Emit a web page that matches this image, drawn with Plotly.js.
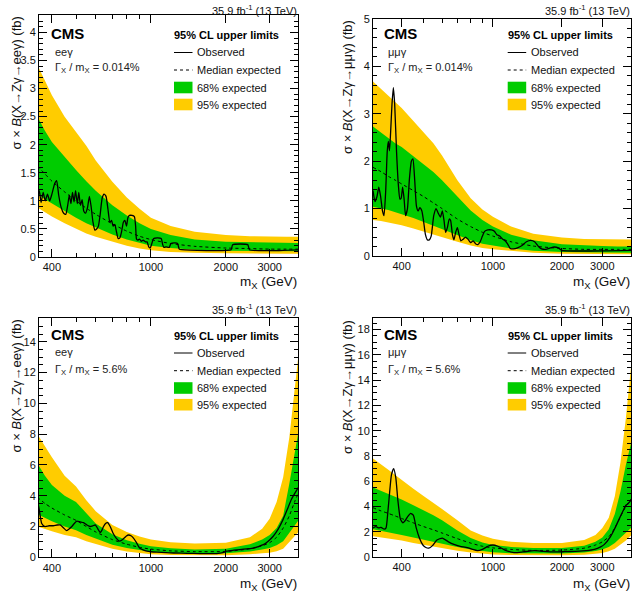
<!DOCTYPE html>
<html>
<head>
<meta charset="utf-8">
<script src="https://cdn.plot.ly/plotly-3.0.1.min.js"></script>
<style>
  html, body { margin: 0; padding: 0; background: #ffffff; }
  #chart { width: 642px; height: 606px; }
</style>
</head>
<body>
<div id="chart"></div>
<script>
// ---------- Expected-limit bands and observed limits (fb) ----------

// ee gamma, width/mass = 0.014 %
const massEEnarrow = [350, 375, 400, 450, 500, 550, 600, 700, 800, 900, 1000, 1200, 1500, 2000, 2500, 3000, 3500, 4000];
const eeNarrowUp95 = [3.42, 3.15, 2.88, 2.50, 2.22, 1.98, 1.72, 1.34, 1.06, 0.86, 0.70, 0.55, 0.45, 0.39, 0.37, 0.36, 0.36, 0.36];
const eeNarrowUp68 = [2.50, 2.25, 2.05, 1.78, 1.55, 1.35, 1.18, 0.92, 0.74, 0.60, 0.50, 0.39, 0.31, 0.27, 0.26, 0.25, 0.25, 0.25];
const eeNarrowMed  = [1.62, 1.48, 1.35, 1.16, 1.00, 0.87, 0.76, 0.59, 0.46, 0.37, 0.31, 0.24, 0.19, 0.16, 0.15, 0.14, 0.14, 0.14];
const eeNarrowLo68 = [1.12, 1.03, 0.95, 0.82, 0.70, 0.60, 0.52, 0.40, 0.31, 0.25, 0.20, 0.16, 0.13, 0.11, 0.10, 0.10, 0.10, 0.10];
const eeNarrowLo95 = [0.88, 0.80, 0.72, 0.60, 0.50, 0.42, 0.36, 0.27, 0.20, 0.15, 0.12, 0.09, 0.075, 0.065, 0.06, 0.06, 0.06, 0.06];
const obsMassEEnarrow = [350, 356, 362, 369, 376, 384, 392, 400, 410, 418, 426, 436, 446, 455, 463, 470, 477, 484, 491, 498,
  506, 513, 521, 529, 537, 546, 556, 566, 575, 585, 595, 605, 615, 625, 637, 648, 660, 672, 684, 695,
  705, 716, 727, 738, 750, 762, 775, 786, 798, 808, 820, 840, 858, 868, 875, 885, 900, 915, 930, 950,
  965, 980, 993, 1005, 1026, 1060, 1100, 1115, 1128, 1150, 1185, 1203, 1250, 1280, 1300, 1330, 2100, 2130, 2450, 2490, 4000];
const obsEEnarrow = [1.05, 1.18, 0.97, 1.15, 1.00, 1.12, 1.00, 1.12, 1.30, 1.36, 1.10, 0.88, 0.78, 0.76, 0.92, 1.10, 0.95, 1.15, 0.98, 1.18,
  0.95, 1.15, 0.92, 1.02, 0.82, 0.78, 0.88, 1.08, 0.90, 0.62, 0.48, 0.50, 0.55, 0.75, 1.05, 1.12, 1.08, 0.85, 0.62, 0.65,
  0.55, 0.58, 0.45, 0.33, 0.34, 0.45, 0.62, 0.65, 0.55, 0.70, 0.74, 0.74, 0.72, 0.55, 0.32, 0.30, 0.32, 0.28, 0.30, 0.27,
  0.27, 0.18, 0.16, 0.22, 0.33, 0.34, 0.33, 0.22, 0.17, 0.18, 0.17, 0.24, 0.25, 0.24, 0.14, 0.13, 0.13, 0.22, 0.22, 0.13, 0.13];

// mu mu gamma, width/mass = 0.014 %
const massMMnarrow = [300, 325, 350, 375, 400, 450, 500, 550, 600, 700, 800, 900, 1000, 1200, 1500, 2000, 2500, 3000, 3500, 4000];
const mmNarrowUp95 = [3.68, 3.52, 3.38, 3.25, 3.12, 2.85, 2.60, 2.38, 2.12, 1.60, 1.22, 0.98, 0.83, 0.62, 0.47, 0.39, 0.36, 0.35, 0.35, 0.35];
const mmNarrowUp68 = [2.73, 2.60, 2.48, 2.38, 2.30, 2.10, 1.93, 1.77, 1.60, 1.25, 0.96, 0.76, 0.62, 0.45, 0.33, 0.25, 0.22, 0.21, 0.20, 0.20];
const mmNarrowMed  = [1.87, 1.78, 1.68, 1.60, 1.52, 1.38, 1.25, 1.12, 1.00, 0.78, 0.62, 0.50, 0.42, 0.30, 0.21, 0.16, 0.14, 0.14, 0.14, 0.14];
const mmNarrowLo68 = [1.04, 1.00, 0.97, 0.93, 0.88, 0.80, 0.72, 0.63, 0.56, 0.44, 0.33, 0.26, 0.22, 0.16, 0.11, 0.085, 0.075, 0.07, 0.07, 0.07];
const mmNarrowLo95 = [0.76, 0.74, 0.71, 0.68, 0.65, 0.58, 0.52, 0.46, 0.40, 0.30, 0.22, 0.17, 0.14, 0.10, 0.07, 0.05, 0.04, 0.035, 0.035, 0.035];
const obsMassMMnarrow = [300, 306, 312, 318, 324, 330, 335, 341, 346, 350, 354, 358, 363, 368, 373, 380, 387, 393, 398, 404,
  410, 416, 424, 432, 441, 448, 456, 464, 472, 480, 490, 498, 508, 518, 528, 538, 552, 565, 578, 590,
  602, 612, 622, 633, 645, 654, 666, 676, 688, 700, 712, 725, 740, 760, 780, 800, 820, 840, 860, 880,
  900, 920, 950, 985, 1015, 1040, 1070, 1100, 1130, 1160, 1190, 1230, 1280, 1340, 1400, 1460, 1520, 1580, 1630, 1700,
  1780, 1850, 1930, 1990, 4000];
const obsMMnarrow = [1.38, 1.15, 1.25, 1.45, 1.25, 0.95, 0.85, 1.40, 2.20, 2.42, 2.22, 2.60, 3.20, 3.55, 3.20, 2.20, 1.50, 1.20, 1.22, 1.45,
  1.20, 0.85, 1.00, 1.60, 2.00, 2.05, 1.60, 1.05, 0.95, 1.02, 0.95, 0.75, 0.45, 0.34, 0.34, 0.42, 0.85, 1.00, 0.90, 0.82,
  0.95, 0.75, 0.50, 0.60, 0.78, 0.75, 0.45, 0.34, 0.50, 0.60, 0.45, 0.32, 0.35, 0.40, 0.35, 0.28, 0.32, 0.26, 0.24, 0.30,
  0.42, 0.52, 0.55, 0.55, 0.52, 0.45, 0.42, 0.36, 0.32, 0.25, 0.16, 0.15, 0.17, 0.22, 0.30, 0.33, 0.30, 0.20, 0.15, 0.14,
  0.17, 0.19, 0.17, 0.12, 0.12];

// ee gamma, width/mass = 5.6 %
const massEEwide = [350, 375, 400, 450, 500, 550, 600, 700, 800, 900, 1000, 1200, 1500, 2000, 2500, 2800, 3000, 3200, 3400, 3600, 3800, 4000];
const eeWideUp95 = [8.0, 7.2, 6.5, 5.3, 4.6, 3.7, 3.0, 2.1, 1.65, 1.35, 1.15, 0.98, 0.90, 0.95, 1.30, 1.85, 2.50, 3.60, 5.20, 7.80, 11.2, 14.5];
const eeWideUp68 = [6.1, 5.3, 4.7, 4.0, 3.6, 2.9, 2.2, 1.5, 1.10, 0.88, 0.72, 0.58, 0.50, 0.55, 0.85, 1.15, 1.45, 1.90, 2.70, 4.80, 7.00, 9.0];
const eeWideMed  = [3.9, 3.5, 3.2, 2.75, 2.4, 2.0, 1.65, 1.15, 0.85, 0.65, 0.53, 0.42, 0.37, 0.38, 0.55, 0.75, 0.95, 1.30, 1.90, 2.70, 3.70, 4.5];
const eeWideLo68 = [2.8, 2.55, 2.35, 2.0, 1.75, 1.45, 1.2, 0.82, 0.60, 0.45, 0.36, 0.28, 0.25, 0.26, 0.38, 0.50, 0.60, 0.78, 1.05, 1.55, 2.10, 2.6];
const eeWideLo95 = [2.0, 1.85, 1.7, 1.45, 1.3, 1.05, 0.85, 0.55, 0.38, 0.27, 0.20, 0.15, 0.13, 0.14, 0.20, 0.26, 0.30, 0.40, 0.55, 0.95, 1.40, 1.8];
const obsMassEEwide = [350, 355, 364, 375, 390, 405, 420, 432, 446, 459, 470, 481, 492, 504, 520, 536, 553, 570, 585, 597,
  612, 625, 635, 645, 657, 670, 686, 703, 725, 748, 765, 781, 797, 813, 832, 851, 875, 900, 930, 964,
  1000, 1057, 1150, 1233, 1400, 1574, 1700, 1837, 1950, 2015, 2150, 2279, 2430, 2582, 2700, 2830, 2960, 3101, 3250, 3395,
  3530, 3667, 3800, 3900, 4000];
const obsEEwide = [3.6, 3.2, 2.2, 2.0, 2.05, 2.05, 2.1, 2.1, 1.9, 1.73, 1.85, 2.0, 2.2, 2.35, 2.3, 2.25, 2.1, 2.0, 2.05, 2.1,
  1.85, 1.6, 1.75, 2.0, 2.2, 2.25, 2.0, 1.6, 1.25, 1.05, 1.12, 1.25, 1.38, 1.45, 1.4, 1.25, 0.95, 0.6, 0.48, 0.4,
  0.36, 0.33, 0.3, 0.28, 0.26, 0.24, 0.24, 0.24, 0.3, 0.4, 0.46, 0.5, 0.55, 0.6, 0.7, 0.82, 1.05, 1.37, 1.85, 2.45,
  3.1, 3.75, 4.2, 4.5, 4.8];

// mu mu gamma, width/mass = 5.6 %
const massMMwide = [300, 325, 350, 375, 400, 450, 500, 550, 600, 700, 800, 900, 1000, 1200, 1500, 2000, 2500, 2800, 3000, 3200, 3400, 3600, 3800, 4000];
const mmWideUp95 = [7.8, 7.3, 6.9, 6.5, 6.1, 5.4, 4.8, 4.3, 3.8, 2.9, 2.1, 1.7, 1.45, 1.2, 1.1, 1.1, 1.35, 1.75, 2.3, 3.1, 4.8, 7.5, 11.0, 15.0];
const mmWideUp68 = [5.5, 5.25, 5.0, 4.75, 4.55, 4.1, 3.7, 3.3, 2.9, 2.1, 1.5, 1.15, 0.95, 0.8, 0.72, 0.72, 0.9, 1.2, 1.55, 2.2, 3.4, 5.2, 7.3, 9.0];
const mmWideMed  = [3.9, 3.65, 3.45, 3.25, 3.05, 2.7, 2.4, 2.15, 1.9, 1.45, 1.1, 0.85, 0.72, 0.6, 0.52, 0.55, 0.7, 0.95, 1.2, 1.6, 2.3, 3.2, 4.0, 4.6];
const mmWideLo68 = [2.2, 2.07, 1.95, 1.85, 1.75, 1.55, 1.37, 1.22, 1.08, 0.8, 0.6, 0.46, 0.38, 0.3, 0.26, 0.27, 0.35, 0.48, 0.6, 0.8, 1.1, 1.5, 1.9, 2.3];
const mmWideLo95 = [1.65, 1.55, 1.45, 1.37, 1.3, 1.1, 0.92, 0.8, 0.7, 0.5, 0.36, 0.26, 0.2, 0.15, 0.13, 0.14, 0.18, 0.25, 0.32, 0.45, 0.65, 0.95, 1.3, 1.7];
const obsMassMMwide = [300, 309, 318, 325, 336, 342, 348, 354, 361, 369, 377, 385, 395, 405, 413, 425, 438, 450, 463, 478,
  495, 510, 525, 545, 570, 602, 640, 676, 720, 773, 815, 855, 900, 950, 1000, 1050, 1128, 1237, 1350, 1515,
  1650, 1847, 2050, 2268, 2550, 2770, 2950, 3063, 3250, 3387, 3550, 3682, 3800, 3872, 4000];
const obsMMwide = [2.3, 2.4, 2.3, 2.35, 2.2, 2.3, 3.5, 5.0, 6.5, 7.0, 6.3, 4.5, 3.0, 2.7, 2.85, 3.2, 3.45, 3.3, 2.3, 1.5,
  0.95, 0.75, 0.7, 0.9, 1.35, 1.5, 1.2, 1.0, 0.85, 0.75, 0.6, 0.5, 0.6, 0.85, 0.95, 0.85, 0.55, 0.35, 0.4, 0.5,
  0.45, 0.4, 0.42, 0.45, 0.5, 0.6, 0.8, 1.0, 1.6, 2.2, 3.0, 3.6, 4.1, 4.2, 4.5];

// Axis labels
const xTickVals = [400, 1000, 2000, 3000];
const xTickText = ['400', '1000', '2000', '3000'];
const xMinorVals = [300, 400, 500, 600, 700, 800, 900, 2000, 3000, 4000];

// Text
const lumiText = '35.9 fb<sup>-1</sup> (13 TeV)';
const legendTitle = '<b>95% CL upper limits</b>';
const legendLabels = ['Observed', 'Median expected', '68% expected', '95% expected'];
const xTitle = 'm<sub>X</sub> (GeV)';

// ---------- Drawing ----------
const W = 642, H = 606;
const FONT = 'Liberation Sans, Arial, Helvetica, sans-serif';
const YELLOW = '#ffcc00', GREEN = '#00cc00';
const fx = p => p / W;
const fy = p => 1 - p / H;

const panels = [
  { id: '', mass: massEEnarrow, up95: eeNarrowUp95, up68: eeNarrowUp68, med: eeNarrowMed, lo68: eeNarrowLo68, lo95: eeNarrowLo95,
    obsM: obsMassEEnarrow, obs: obsEEnarrow, chan: 'eeγ', width: '0.014%', decay: 'ee',
    box: { l: 39, r: 298, t: 15, b: 257 }, xr: [355, 3900], yr: [0, 4.31], dt: 0.5, mdt: 0.1,
    cms: { x: 51, y: 33 }, textX: 55, chanY: 52, gamY: 68.5, legX: 174, legTxt: 197.3,
    legY: [35, 52.5, 70, 87.5, 104.5], lumiY: 9.5, mxY: 282, ytX: 16, ytTop: 15 },
  { id: '2', mass: massMMnarrow, up95: mmNarrowUp95, up68: mmNarrowUp68, med: mmNarrowMed, lo68: mmNarrowLo68, lo95: mmNarrowLo95,
    obsM: obsMassMMnarrow, obs: obsMMnarrow, chan: 'μμγ', width: '0.014%', decay: 'μμ',
    box: { l: 373, r: 631, t: 19, b: 256 }, xr: [300, 4000], yr: [0, 5], dt: 1, mdt: 0.2,
    cms: { x: 383.7, y: 33 }, textX: 387.5, chanY: 52, gamY: 68.5, legX: 507.7, legTxt: 531,
    legY: [35, 52.5, 70, 87.5, 104.5], lumiY: 9.5, mxY: 282.5, ytX: 347, ytTop: 18 },
  { id: '3', mass: massEEwide, up95: eeWideUp95, up68: eeWideUp68, med: eeWideMed, lo68: eeWideLo68, lo95: eeWideLo95,
    obsM: obsMassEEwide, obs: obsEEwide, chan: 'eeγ', width: '5.6%', decay: 'ee',
    box: { l: 39, r: 298, t: 318, b: 557.3 }, xr: [355, 3900], yr: [0, 15.55], dt: 2, mdt: 0.5,
    cms: { x: 51, y: 334.7 }, textX: 55, chanY: 352.3, gamY: 369.7, legX: 174, legTxt: 197.3,
    legY: [335.7, 353, 370.7, 388, 404.7], lumiY: 309, mxY: 584.7, ytX: 16, ytTop: 318 },
  { id: '4', mass: massMMwide, up95: mmWideUp95, up68: mmWideUp68, med: mmWideMed, lo68: mmWideLo68, lo95: mmWideLo95,
    obsM: obsMassMMwide, obs: obsMMwide, chan: 'μμγ', width: '5.6%', decay: 'μμ',
    box: { l: 373, r: 631, t: 318, b: 557 }, xr: [300, 4000], yr: [0, 18.92], dt: 2, mdt: 0.5,
    cms: { x: 383.7, y: 334.7 }, textX: 387.5, chanY: 352.3, gamY: 369.7, legX: 507.7, legTxt: 531,
    legY: [335.7, 353, 370.7, 388, 404.7], lumiY: 309, mxY: 584.7, ytX: 347, ytTop: 318 }
];

const band = (x, lo, hi) => ({
  x: x.concat(x.slice().reverse()),
  y: hi.concat(lo.slice().reverse())
});

const traces = [];
const layout = {
  width: W, height: H,
  margin: { l: 0, r: 0, t: 0, b: 0 },
  paper_bgcolor: '#ffffff', plot_bgcolor: '#ffffff',
  showlegend: false,
  font: { family: FONT, size: 11, color: '#000' },
  annotations: [], shapes: []
};

panels.forEach(p => {
  const xa = 'x' + p.id, ya = 'y' + p.id;
  const b95 = band(p.mass, p.lo95, p.up95);
  const b68 = band(p.mass, p.lo68, p.up68);
  traces.push({ type: 'scatter', mode: 'lines', x: b95.x, y: b95.y, xaxis: xa, yaxis: ya,
    fill: 'toself', fillcolor: YELLOW, line: { width: 0, color: YELLOW }, hoverinfo: 'skip' });
  traces.push({ type: 'scatter', mode: 'lines', x: b68.x, y: b68.y, xaxis: xa, yaxis: ya,
    fill: 'toself', fillcolor: GREEN, line: { width: 0, color: GREEN }, hoverinfo: 'skip' });
  traces.push({ type: 'scatter', mode: 'lines', x: p.mass, y: p.med, xaxis: xa, yaxis: ya,
    line: { color: '#000', width: 1, dash: 'dot', shape: 'spline', smoothing: 0.6 } });
  traces.push({ type: 'scatter', mode: 'lines', x: p.obsM, y: p.obs, xaxis: xa, yaxis: ya,
    line: { color: '#000', width: 1.3, shape: 'spline', smoothing: 0.5 } });

  const common = {
    showline: true, linecolor: '#000', linewidth: 1, mirror: 'ticks',
    ticks: 'inside', tickcolor: '#000', tickwidth: 1, ticklen: 8,
    showgrid: false, zeroline: false,
    tickfont: { family: FONT, size: 11, color: '#111' }
  };
  layout['xaxis' + p.id] = Object.assign({}, common, {
    domain: [fx(p.box.l), fx(p.box.r)], anchor: ya, type: 'log',
    range: [Math.log10(p.xr[0]), Math.log10(p.xr[1])],
    tickmode: 'array', tickvals: xTickVals, ticktext: xTickText,
    minor: { tickmode: 'array', tickvals: xMinorVals, ticks: 'inside', ticklen: 4, tickcolor: '#000', showgrid: false }
  });
  layout['yaxis' + p.id] = Object.assign({}, common, {
    domain: [fy(p.box.b), fy(p.box.t)], anchor: xa,
    range: p.yr, tickmode: 'linear', tick0: 0, dtick: p.dt,
    minor: { dtick: p.mdt, tick0: 0, ticks: 'inside', ticklen: 4, tickcolor: '#000', showgrid: false }
  });

  const ann = (x, y, text, opts) => layout.annotations.push(Object.assign({
    xref: 'paper', yref: 'paper', x: fx(x), y: fy(y), text: text, showarrow: false,
    xanchor: 'left', yanchor: 'middle', font: { family: FONT, size: 11, color: '#000' }
  }, opts || {}));

  // CMS label and channel text
  ann(p.cms.x - 2, p.cms.y, '<b>CMS</b>', { font: { family: FONT, size: 15, color: '#000' } });
  ann(p.textX - 2, p.chanY, p.chan, { font: { family: FONT, size: 11, color: '#222' } });
  ann(p.textX - 2, p.gamY, 'Γ<sub>X</sub> / m<sub>X</sub> = ' + p.width, { font: { family: FONT, size: 11, color: '#222' } });

  // luminosity and axis titles
  ann(p.box.r + 1, p.lumiY, lumiText, { xanchor: 'right', font: { family: FONT, size: 11, color: '#111' } });
  ann(p.box.r + 1, p.mxY, xTitle, { xanchor: 'right', font: { family: FONT, size: 13.5, color: '#111' } });
  ann(p.ytX, p.ytTop, 'σ × <i>B</i>(X→Zγ→' + p.decay + 'γ) (fb)',
    { xanchor: 'center', yanchor: 'top', textangle: -90, font: { family: FONT, size: 13, color: '#111' } });

  // legend
  ann(p.legX - 2, p.legY[0], legendTitle, { font: { family: FONT, size: 11, color: '#000' } });
  legendLabels.forEach((lab, i) => ann(p.legTxt - 2, p.legY[i + 1], lab, { font: { family: FONT, size: 11, color: '#111' } }));
  const sw = 18.5;
  layout.shapes.push({ type: 'line', xref: 'paper', yref: 'paper',
    x0: fx(p.legX), x1: fx(p.legX + sw), y0: fy(p.legY[1]), y1: fy(p.legY[1]), line: { color: '#000', width: 1 } });
  layout.shapes.push({ type: 'line', xref: 'paper', yref: 'paper',
    x0: fx(p.legX), x1: fx(p.legX + sw), y0: fy(p.legY[2]), y1: fy(p.legY[2]), line: { color: '#000', width: 1, dash: 'dot' } });
  layout.shapes.push({ type: 'rect', xref: 'paper', yref: 'paper',
    x0: fx(p.legX), x1: fx(p.legX + sw), y0: fy(p.legY[3] - 5.8), y1: fy(p.legY[3] + 5.8), fillcolor: GREEN, line: { width: 0 } });
  layout.shapes.push({ type: 'rect', xref: 'paper', yref: 'paper',
    x0: fx(p.legX), x1: fx(p.legX + sw), y0: fy(p.legY[4] - 5.8), y1: fy(p.legY[4] + 5.8), fillcolor: YELLOW, line: { width: 0 } });
});

Plotly.newPlot('chart', traces, layout, { displayModeBar: false, staticPlot: true });
</script>
</body>
</html>
